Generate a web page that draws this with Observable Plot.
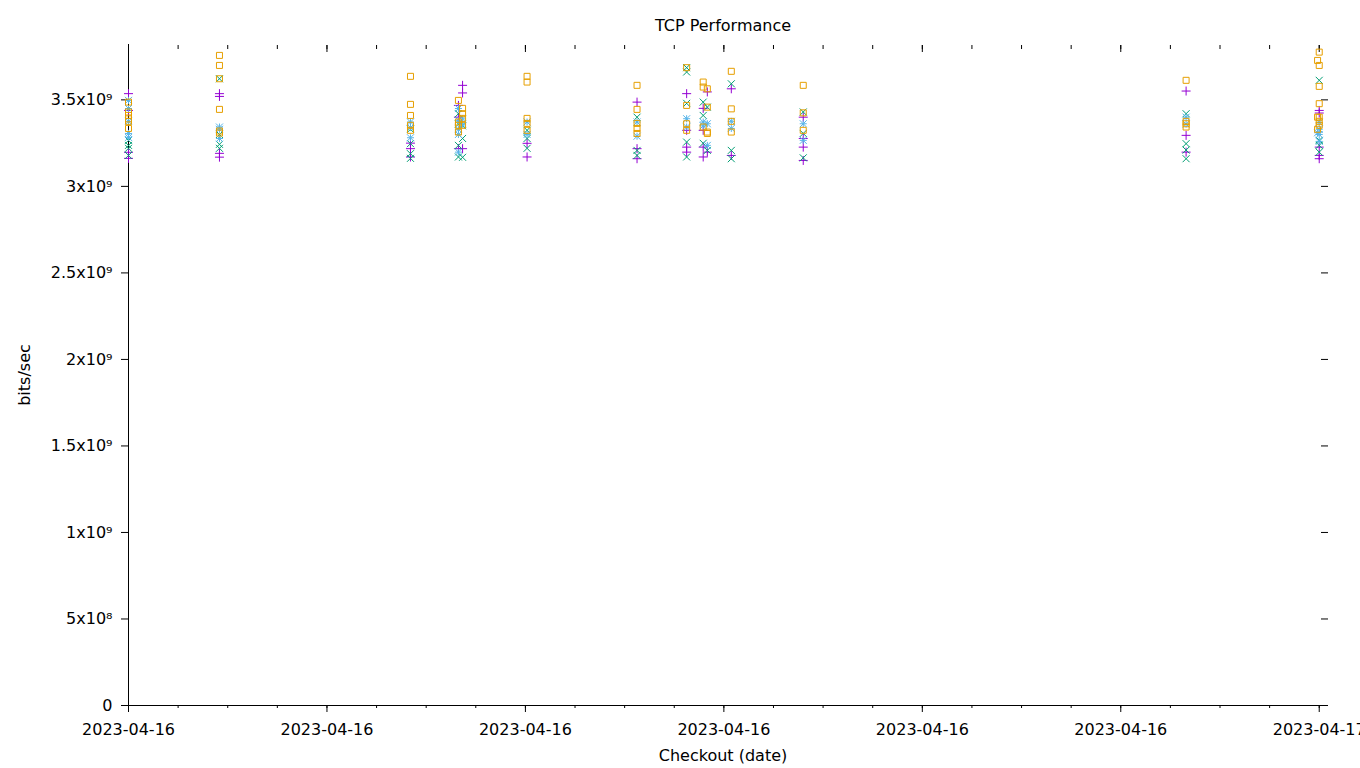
<!DOCTYPE html>
<html>
<head>
<meta charset="utf-8">
<script src="https://cdn.jsdelivr.net/npm/d3@7"></script>
<script src="https://cdn.jsdelivr.net/npm/@observablehq/plot@0.6"></script>
<style>
  body { margin: 0; background: #fff; }
  #chart svg { display: block; }
</style>
</head>
<body>
<div id="chart"></div>
<script>
// Checkout times (UTC)
const times = [
  "2023-04-16T00:00", "2023-04-16T01:50", "2023-04-16T05:41", "2023-04-16T06:39",
  "2023-04-16T06:44", "2023-04-16T08:02", "2023-04-16T10:15", "2023-04-16T11:15",
  "2023-04-16T11:35", "2023-04-16T11:40", "2023-04-16T12:09", "2023-04-16T13:36",
  "2023-04-16T21:19", "2023-04-16T23:58", "2023-04-17T00:00"
];

// Throughput samples per checkout, in units of 1e9 bits/sec
const seriesPlus = [
  [3.536, 3.439, 3.197, 3.162], [3.536, 3.52, 3.191, 3.169], [3.218, 3.17, 3.25],
  [3.468, 3.218, 3.4], [3.584, 3.54, 3.218], [3.249, 3.17], [3.487, 3.218, 3.16],
  [3.536, 3.324, 3.227, 3.198], [3.451, 3.324, 3.227, 3.17], [3.546, 3.198],
  [3.564, 3.179], [3.4, 3.277, 3.227, 3.15], [3.551, 3.295, 3.198], [],
  [3.439, 3.424, 3.227, 3.179, 3.16]
];
const seriesCross = [
  [3.266, 3.237, 3.22, 3.179], [3.622, 3.243, 3.22, 3.3], [3.247, 3.189, 3.162, 3.33],
  [3.42, 3.36, 3.237, 3.17], [3.277, 3.168, 3.35], [3.324, 3.277, 3.22], [3.4, 3.208, 3.179],
  [3.686, 3.661, 3.48, 3.256, 3.17], [3.487, 3.41, 3.249], [3.458, 3.208],
  [3.593, 3.208, 3.16], [3.43, 3.306, 3.165], [3.42, 3.247, 3.21, 3.16], [],
  [3.613, 3.266, 3.237, 3.198]
];
const seriesStar = [
  [3.497, 3.45, 3.376, 3.306, 3.283], [3.343, 3.33, 3.277], [3.372, 3.281, 3.34],
  [3.45, 3.38, 3.33, 3.198, 3.3], [3.39, 3.36], [3.372, 3.3], [3.372, 3.29],
  [3.391, 3.343], [3.372, 3.35], [3.362, 3.237], [3.376, 3.335], [3.362, 3.266],
  [3.4, 3.36], [3.31], [3.37, 3.33, 3.3, 3.26]
];
const seriesSquare = [
  [3.487, 3.43, 3.41, 3.39, 3.376, 3.335], [3.757, 3.699, 3.622, 3.445, 3.32, 3.308],
  [3.636, 3.474, 3.41, 3.353, 3.324], [3.497, 3.372, 3.353, 3.314], [3.451, 3.42, 3.393, 3.353],
  [3.636, 3.603, 3.393, 3.364, 3.324], [3.584, 3.445, 3.364, 3.335, 3.306],
  [3.686, 3.468, 3.362, 3.324], [3.603, 3.574, 3.343], [3.564, 3.458, 3.314, 3.306],
  [3.665, 3.448, 3.376, 3.314], [3.584, 3.425, 3.324], [3.613, 3.376, 3.362, 3.343],
  [3.728, 3.4, 3.33], [3.776, 3.699, 3.578, 3.478, 3.4, 3.376, 3.353]
];

const yTicks = [0, 5e8, 1e9, 1.5e9, 2e9, 2.5e9, 3e9, 3.5e9];
const xDomain = [new Date("2023-04-16T00:00Z"), new Date("2023-04-17T00:10Z")];
const yDomain = [0, 3.82e9];

const colors = { plus: "#9400d3", cross: "#009e73", star: "#56b4e9", square: "#e69f00" };

function rows(series) {
  const out = [];
  series.forEach((vals, i) => {
    const t = new Date(times[i] + "Z");
    vals.forEach(v => out.push({ t, v: v * 1e9 }));
  });
  return out;
}

// gnuplot-like point symbols
const rad = size => Math.sqrt(size / Math.PI);
const symPlus = { draw(c, size) { const r = rad(size); c.moveTo(-r, 0); c.lineTo(r, 0); c.moveTo(0, -r); c.lineTo(0, r); } };
const symCross = { draw(c, size) { const r = rad(size); c.moveTo(-r, -r); c.lineTo(r, r); c.moveTo(-r, r); c.lineTo(r, -r); } };
const symStar = { draw(c, size) { const r = rad(size); c.moveTo(-r, 0); c.lineTo(r, 0); c.moveTo(0, -r); c.lineTo(0, r);
  c.moveTo(-r, -r); c.lineTo(r, r); c.moveTo(-r, r); c.lineTo(r, -r); } };
const symSquare = { draw(c, size) { const r = rad(size); c.rect(-r, -r, 2 * r, 2 * r); } };

const sup = { 8: "\u2078", 9: "\u2079" };
function yFmt(d) {
  if (d === 0) return "0";
  const e = Math.floor(Math.log10(d));
  const m = +(d / 10 ** e).toFixed(2);
  return `${m}x10${sup[e]}`;
}
const blank = () => "";

const dotOpts = (sym, r, color) => ({ x: "t", y: "v", symbol: sym, r, stroke: color, fill: "none", strokeWidth: 1 });
const labelOpts = { text: d => d, textAnchor: "middle", lineAnchor: "middle", fontSize: 16 };

const chart = Plot.plot({
  width: 1360,
  height: 768,
  marginLeft: 128,
  marginRight: 33,
  marginTop: 44,
  marginBottom: 63,
  style: { fontFamily: "'DejaVu Sans', sans-serif", fontSize: "16px", background: "white", overflow: "visible", color: "black" },
  x: { type: "utc", domain: xDomain },
  y: { domain: yDomain },
  marks: [
    Plot.axisX({ ticks: d3.utcHour.every(4), tickFormat: d3.utcFormat("%Y-%m-%d"), tickSize: 7, tickPadding: 11, label: null, fontSize: 16 }),
    Plot.axisX({ ticks: d3.utcHour.every(1), tickSize: 3, tickFormat: blank, label: null }),
    Plot.axisX({ anchor: "top", ticks: d3.utcHour.every(4), tickSize: -7, tickFormat: blank, label: null }),
    Plot.axisX({ anchor: "top", ticks: d3.utcHour.every(1), tickSize: -4, tickFormat: blank, label: null }),
    Plot.axisY({ ticks: yTicks, tickFormat: yFmt, tickSize: 7, tickPadding: 9, label: null, fontSize: 16 }),
    Plot.axisY({ anchor: "right", ticks: yTicks, tickSize: -7, tickFormat: blank, label: null }),
    Plot.ruleY([0], { stroke: "black" }),
    Plot.ruleX([xDomain[0]], { stroke: "black" }),
    Plot.dot(rows(seriesPlus), dotOpts(symPlus, 4.5, colors.plus)),
    Plot.dot(rows(seriesCross), dotOpts(symCross, 3.5, colors.cross)),
    Plot.dot(rows(seriesStar), dotOpts(symStar, 3.5, colors.star)),
    Plot.dot(rows(seriesSquare), dotOpts(symSquare, 3, colors.square)),
    Plot.text(["TCP Performance"], { ...labelOpts, frameAnchor: "top", dy: -19, dx: -5 }),
    Plot.text(["Checkout (date)"], { ...labelOpts, frameAnchor: "bottom", dy: 50, dx: -5 }),
    Plot.text(["bits/sec"], { ...labelOpts, frameAnchor: "left", dx: -104, rotate: -90 })
  ]
});
document.getElementById("chart").appendChild(chart);
</script>
</body>
</html>
